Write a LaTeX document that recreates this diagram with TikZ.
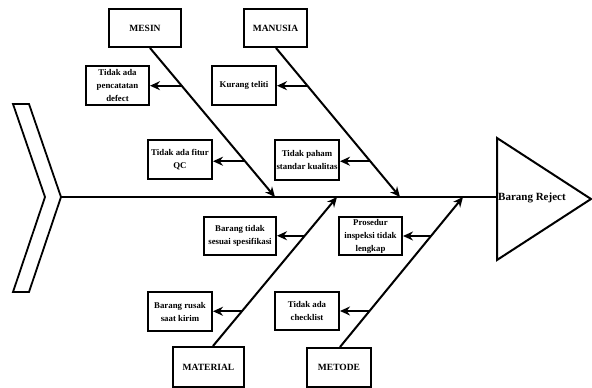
\documentclass[tikz,border=0pt]{standalone}
\usepackage{fontspec}
\setmainfont{Liberation Serif}
\usetikzlibrary{arrows.meta}

\tikzset{
  category/.style={draw, line width=2pt, minimum height=38pt, inner sep=0pt,
    font=\bfseries\fontsize{9.5}{11}\selectfont},
  cause/.style={draw, line width=2pt, minimum width=63pt, minimum height=39pt,
    inner sep=0pt, align=center, font=\bfseries\fontsize{8.8}{13}\selectfont},
  bone/.style={line width=2pt, -{Stealth[length=10pt,width=9pt]}},
  twig/.style={line width=2pt, -{Stealth[length=10pt,width=9pt]}},
}

\begin{document}
\begin{tikzpicture}[x=1pt,y=-1pt]
        \useasboundingbox (0,0) rectangle (592,388);
        \draw [line width=1.8pt, line join=miter]
        (13,104) -- (29,104) -- (61,197) -- (29,292) -- (13,292) -- (45,197) -- cycle;
        \draw [line width=2pt] (497,138) -- (591,199) -- (497,260) -- cycle;
        \coordinate (tail) at (61,197);
        \coordinate (head) at (497,197);
        \node[anchor=west, inner sep=1pt, font=\bfseries\fontsize{11}{13}\selectfont] (effect) at (497,198) {Barang Reject};
        \draw [line width=2pt] (tail) -- (head);

        \coordinate (jmesin) at (275,197);
        \coordinate (jmanusia) at (400,197);
        \coordinate (jmaterial) at (337,197);
        \coordinate (jmetode) at (463,197);

        \node[category, minimum width=72pt] (mesin) at (145,28) {MESIN};
        \node[category, minimum width=63pt] (manusia) at (275.5,28) {MANUSIA};
        \node[category, minimum width=71pt, minimum height=40pt] (material) at (208.5,367) {MATERIAL};
        \node[category, minimum width=64pt, minimum height=39pt] (metode) at (339,367.5) {METODE};

        \node[cause] (defect) at (117.5,85.5) {Tidak ada\\pencatatan\\defect};
        \node[cause, minimum width=64pt] (teliti) at (244,85.5) {Kurang teliti};
        \node[cause, minimum width=64pt] (fitur) at (180,159.5) {Tidak ada fitur\\QC};
        \node[cause, minimum width=64pt, minimum height=40pt] (standar) at (307,160) {Tidak paham\\standar kualitas};
        \node[cause, minimum width=72pt, minimum height=38pt] (spesifikasi) at (240,236) {Barang tidak\\sesuai spesifikasi};
        \node[cause, minimum width=64pt] (rusak) at (180,311.5) {Barang rusak\\saat kirim};
        \node[cause, minimum height=38pt] (prosedur) at (370.5,236) {Prosedur\\inspeksi tidak\\lengkap};
        \node[cause, minimum width=64pt, minimum height=38pt] (checklist) at (307,311) {Tidak ada\\checklist};

        \draw [bone] ([xshift=5pt]mesin.south) -- coordinate[pos=0.253] (m1) coordinate[pos=0.76] (m2) (jmesin);
        \draw [bone] ([xshift=0.5pt]manusia.south) -- coordinate[pos=0.253] (u1) coordinate[pos=0.76] (u2) (jmanusia);
        \draw [bone] ([xshift=4.5pt]material.north) -- coordinate[pos=0.233] (a1) coordinate[pos=0.74] (a2) (jmaterial);
        \draw [bone] ([xshift=1pt]metode.north) -- coordinate[pos=0.24] (t1) coordinate[pos=0.74] (t2) (jmetode);

        \draw [twig] (m1) -- (m1 -| defect.east);
        \draw [twig] (m2) -- (m2 -| fitur.east);
        \draw [twig] (u1) -- (u1 -| teliti.east);
        \draw [twig] (u2) -- (u2 -| standar.east);
        \draw [twig] (a2) -- (a2 -| spesifikasi.east);
        \draw [twig] (a1) -- (a1 -| rusak.east);
        \draw [twig] (t2) -- (t2 -| prosedur.east);
        \draw [twig] (t1) -- (t1 -| checklist.east);
    \end{tikzpicture}
\end{document}
